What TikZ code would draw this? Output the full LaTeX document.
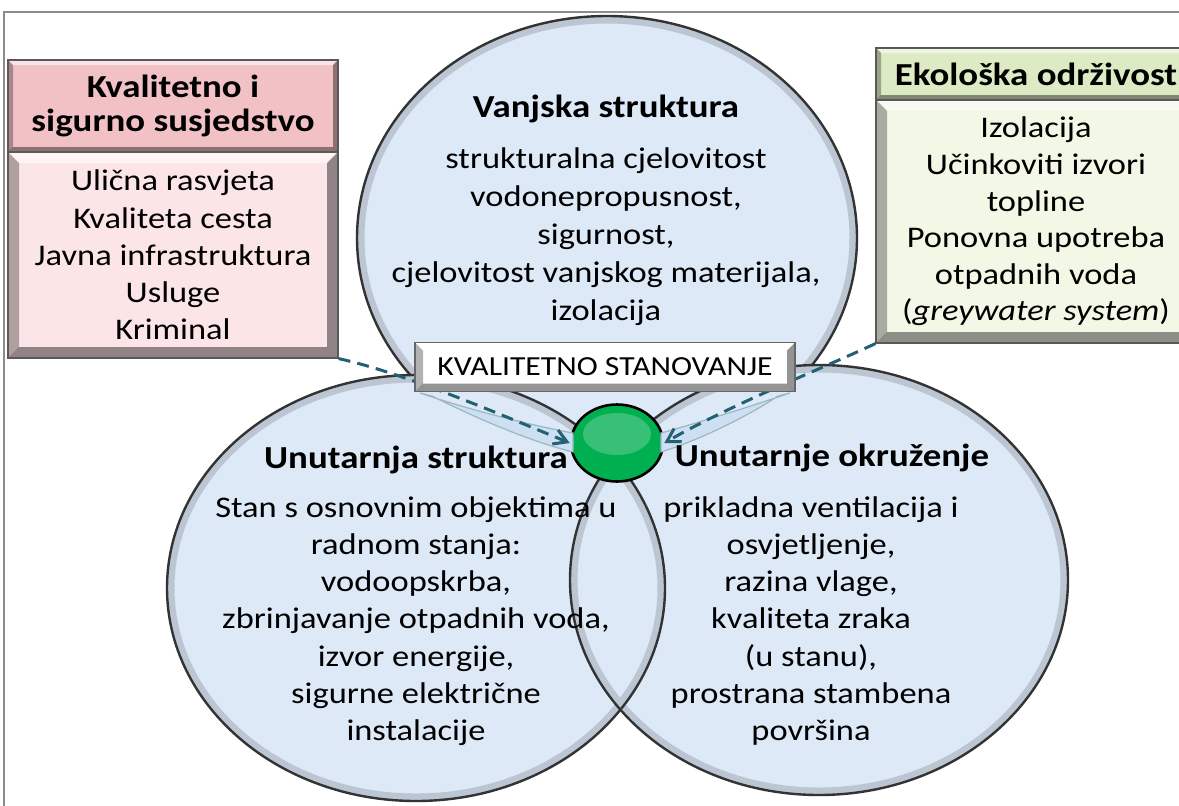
\documentclass[tikz,border=0pt]{standalone}
\usepackage{fontspec}
\setmainfont{Carlito}[FakeStretch=1.15]
\usetikzlibrary{arrows.meta, calc, shapes.geometric}

\definecolor{blobblue}{RGB}{221,233,247}
\definecolor{ringgrey}{RGB}{188,197,210}
\definecolor{pinkhead}{RGB}{242,193,197}
\definecolor{pinkfill}{RGB}{252,229,231}
\definecolor{greenhead}{RGB}{220,235,196}
\definecolor{greenfill}{RGB}{242,247,230}
\definecolor{linkteal}{RGB}{36,96,116}
\definecolor{bandblue}{RGB}{204,223,243}
\definecolor{hubgreen}{RGB}{0,176,80}

\newcommand{\pxu}{0.025cm}
\newcommand{\hdfont}{\fontsize{22.8}{24.2}\selectfont\bfseries}
\newcommand{\txfont}{\fontsize{21.3}{26.5}\selectfont}
\newcommand{\topfont}{\fontsize{21.3}{27}\selectfont}
\newcommand{\bnfont}{\fontsize{19.6}{21}\selectfont}

\begin{document}
\begin{tikzpicture}[x=0.025cm, y=-0.025cm,
    bevel/.style={path picture={
        \coordinate (bnw) at (path picture bounding box.north west);
        \coordinate (bne) at (path picture bounding box.north east);
        \coordinate (bsw) at (path picture bounding box.south west);
        \coordinate (bse) at (path picture bounding box.south east);
        \fill[white, opacity=.55] (bnw) -- (bne) -- ($(bne)+(-#1,#1)$) -- ($(bnw)+(#1,#1)$) -- cycle;
        \fill[black, opacity=.3] (bnw) -- ($(bnw)+(#1,#1)$) -- ($(bsw)+(#1,-#1)$) -- (bsw) -- cycle;
        \fill[black, opacity=.42] (bne) -- ($(bne)+(-#1,#1)$) -- ($(bse)+(-#1,-#1)$) -- (bse) -- cycle;
        \fill[black, opacity=.42] (bsw) -- ($(bsw)+(#1,-#1)$) -- ($(bse)+(-#1,-#1)$) -- (bse) -- cycle;
      }},
    blob/.style={fill=blobblue},
    blobring/.style={draw=ringgrey, line width=7*\pxu},
    blobline/.style={draw=black!80, line width=2.4*\pxu},
    headbox/.style={draw=black!65, line width=1.2*\pxu, align=center, font=\hdfont, inner sep=0pt, bevel=5},
    textbox/.style={draw=black!65, line width=1.2*\pxu, align=center, font=\txfont, inner sep=0pt, bevel=11},
    banner/.style={draw=black!60, fill=white, line width=1.2*\pxu, font=\bnfont, inner sep=0pt,
                   minimum width=380*\pxu, minimum height=49*\pxu, bevel=8},
    hub/.style={ellipse, draw=black, line width=2.6*\pxu, fill=hubgreen, inner sep=0pt,
                minimum width=92*\pxu, minimum height=77*\pxu,
                path picture={\fill[white, opacity=.22] ($(path picture bounding box.center)+(0,-9)$)
                              ellipse [x radius=34, y radius=21];}},
    link/.style={draw=linkteal, line width=3*\pxu, dash pattern=on 0.3cm off 0.18cm,
                 -{Straight Barb[length=0.32cm, width=0.38cm]}},
    band/.style={fill=bandblue, draw=linkteal!45, line width=1.2*\pxu},
    circtitle/.style={font=\hdfont, anchor=base},
    okvir/.style={draw=black!45, line width=1.2*\pxu}]
\useasboundingbox (0,0) rectangle (1179,805);
\clip (0,0) rectangle (1179,805);
\fill[white] (0,0) rectangle (1179,805);
\draw[okvir] (4,12) rectangle (1200,830);

% krugovi
\fill[blob] (607,238) ellipse [x radius=250, y radius=222];
\draw[blobring] (607,238) ellipse [x radius=246, y radius=218];
\draw[blobline] (607,238) ellipse [x radius=250, y radius=222];
\fill[blob] (416,588) ellipse [x radius=249, y radius=213];
\fill[blob] (819,580) ellipse [x radius=249, y radius=215];
\draw[blobring] (416,588) ellipse [x radius=245, y radius=209];
\draw[blobring] (819,580) ellipse [x radius=245, y radius=211];
\draw[blobline] (416,588) ellipse [x radius=249, y radius=213];
\draw[blobline] (819,580) ellipse [x radius=249, y radius=215];

% okviri
\node[headbox, fill=pinkhead, minimum width=330*\pxu, minimum height=92*\pxu] (susjedNaslov) at (173,106)
  {Kvalitetno i\\sigurno susjedstvo};
\node[textbox, fill=pinkfill, minimum width=330*\pxu, minimum height=206*\pxu] (susjedTekst) at (173,255)
  {Ulična rasvjeta\\Kvaliteta cesta\\Javna infrastruktura\\Usluge\\Kriminal};
\node[headbox, fill=greenhead, minimum width=320*\pxu, minimum height=52*\pxu] (ekoNaslov) at (1036,74)
  {Ekološka održivost};
\node[textbox, fill=greenfill, minimum width=320*\pxu, minimum height=243*\pxu,
      font=\fontsize{21.3}{26}\selectfont] (ekoTekst) at (1036,221.5)
  {Izolacija\\Učinkoviti izvori\\topline\\Ponovna upotreba\\otpadnih voda\\(\textit{greywater system})};

\node[hub] (centar) at (617,443) {};

% veze
\fill[band] (420,393) .. controls (470,410) and (530,425) .. (573,433) -- (573,452)
  .. controls (525,440) and (470,415) .. (432,396) -- cycle;
\fill[band] (790,393) .. controls (740,410) and (690,425) .. (661,433) -- (661,452)
  .. controls (700,440) and (750,415) .. (778,396) -- cycle;
\draw[link] (susjedTekst.south east) .. controls (400,372) and (490,410) .. (centar.west);
\draw[link] (ekoTekst.south west) .. controls (830,365) and (730,405) .. (centar.east);

\node[banner] (stanovanje) at (605,367) {KVALITETNO STANOVANJE};

% tekst u krugovima
\node[circtitle] (vanjskaNaslov) at (606,117) {Vanjska struktura};
\node[align=center, font=\topfont] (vanjskaTekst) at (606,237)
  {strukturalna cjelovitost\\vodonepropusnost,\\sigurnost,\\cjelovitost vanjskog materijala,\\izolacija};
\node[circtitle] (unutarNaslov) at (416,468) {Unutarnja struktura};
\node[align=center, font=\txfont] (unutarTekst) at (416,621)
  {Stan s osnovnim objektima u\\radnom stanja:\\vodoopskrba,\\zbrinjavanje otpadnih voda,\\izvor energije,\\sigurne električne\\instalacije};
\node[circtitle] (okruzNaslov) at (832,466) {Unutarnje okruženje};
\node[align=center, font=\txfont] (okruzTekst) at (811,621)
  {prikladna ventilacija i\\osvjetljenje,\\razina vlage,\\kvaliteta zraka\\(u stanu),\\prostrana stambena\\površina};
\end{tikzpicture}
\end{document}
